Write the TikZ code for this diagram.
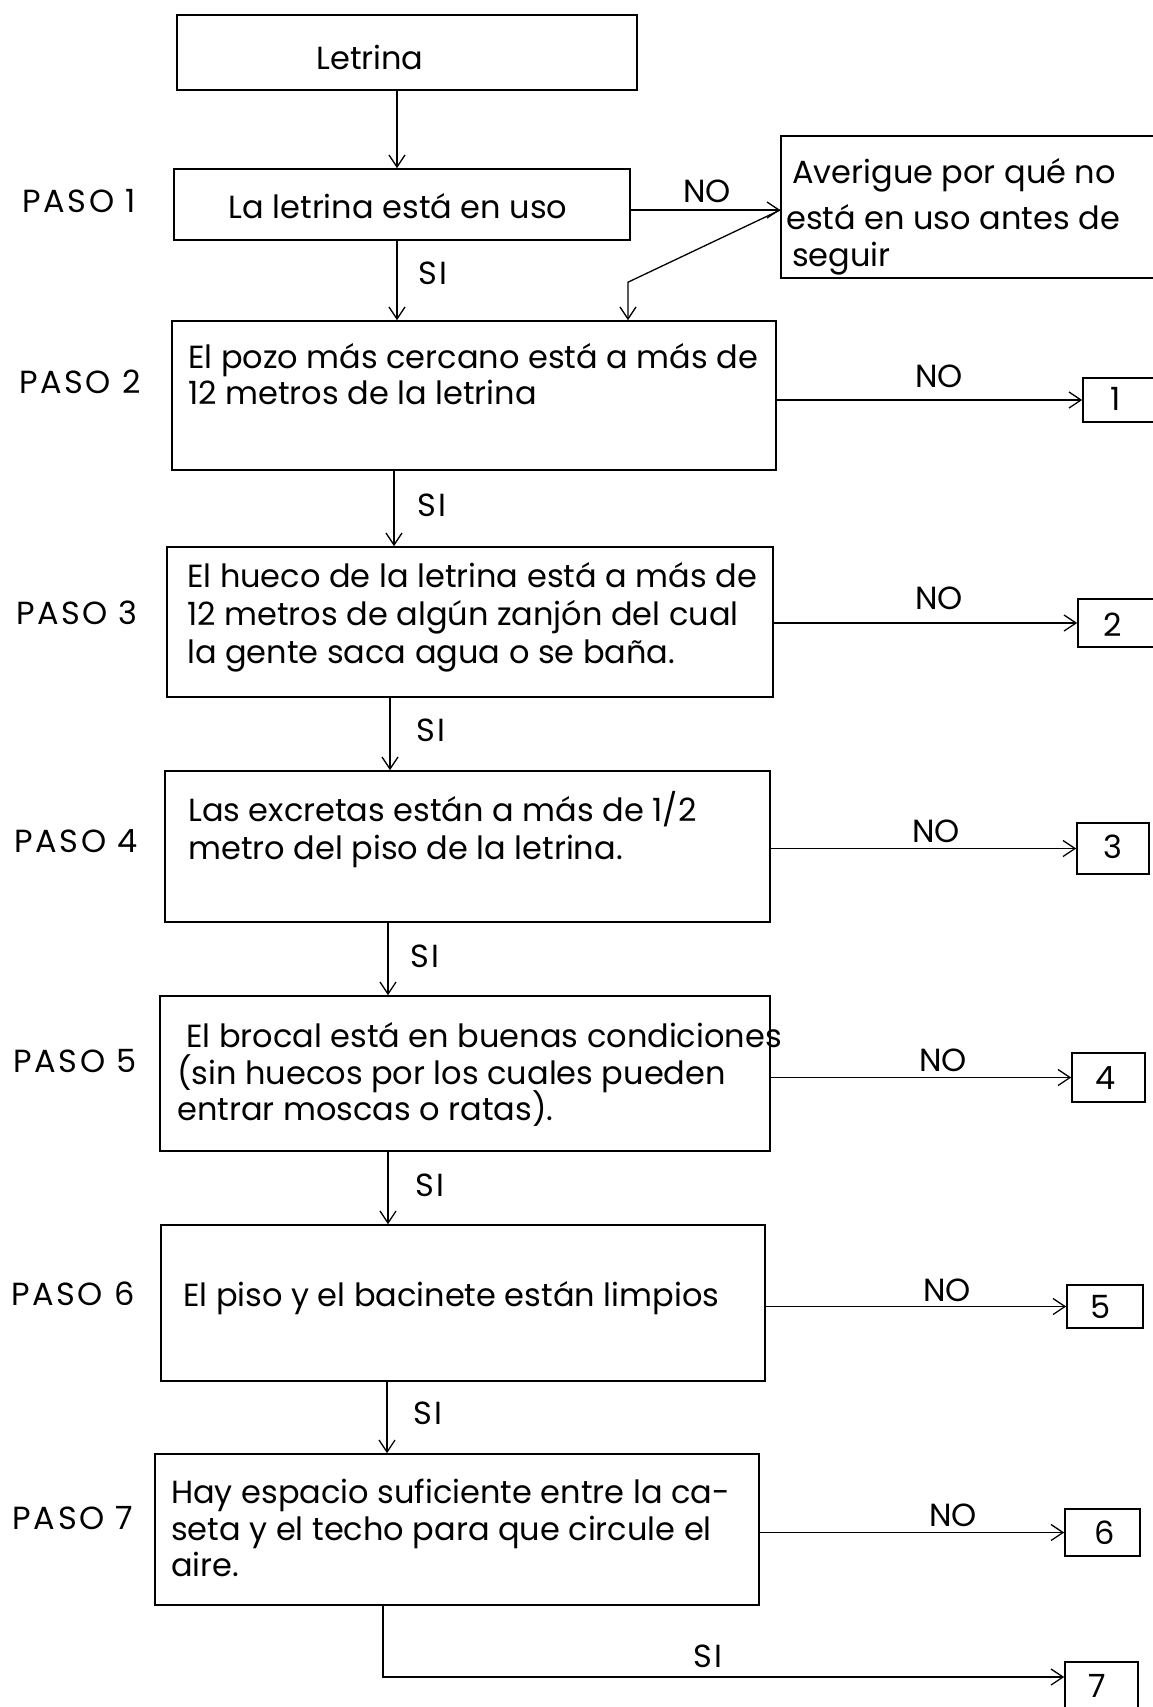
\documentclass[tikz,border=0pt]{standalone}
\usepackage{fontspec}
\setmainfont{Poppins}
\usetikzlibrary{arrows.meta}
\begin{document}
\begin{tikzpicture}[x=1pt,y=-1pt,
  box/.style={draw, line width=1.6pt, inner sep=0pt},
  txt/.style={anchor=west, inner sep=0pt, yshift=-7pt, font=\fontsize{32}{38}\selectfont, text height=0.72em, text depth=0.2em},
  lbl/.style={anchor=center, inner sep=0pt, yshift=-7pt, font=\fontsize{32}{38}\selectfont, text height=0.72em, text depth=0.2em},
  spc/.style={lbl, font=\fontsize{32}{38}\selectfont\addfontfeature{LetterSpace=8}},
  arr/.style={line width=1.3pt, -{Straight Barb[length=12pt,width=16pt,line width=1.3pt]}}]
\fill[white] (0,0) rectangle (1153,1707);
\useasboundingbox (0,0) rectangle (1153,1707);
% boxes
\node[box, minimum width=460pt, minimum height=75pt] (let0) at (407,52.5) {};
\node[box, minimum width=456pt, minimum height=71pt] (p1) at (402,204.5) {};
\node[box, minimum width=379pt, minimum height=142pt] (avg) at (970.5,207) {};
\node[box, minimum width=604pt, minimum height=149pt] (p2) at (474,395.5) {};
\node[box, minimum width=606pt, minimum height=150pt] (p3) at (470,622) {};
\node[box, minimum width=605pt, minimum height=151pt] (p4) at (467.5,846.5) {};
\node[box, minimum width=610pt, minimum height=155pt] (p5) at (465,1073.5) {};
\node[box, minimum width=604pt, minimum height=156pt] (p6) at (463,1303) {};
\node[box, minimum width=604pt, minimum height=151pt] (p7) at (457,1529.5) {};
\node[box, minimum width=77pt, minimum height=44pt] (r1) at (1121.5,400) {};
\node[box, minimum width=82pt, minimum height=48pt] (r2) at (1119,623) {};
\node[box, minimum width=72pt, minimum height=51pt] (r3) at (1113,848.5) {};
\node[box, minimum width=73pt, minimum height=49pt] (r4) at (1108.5,1077.5) {};
\node[box, minimum width=76pt, minimum height=43pt] (r5) at (1105,1306.5) {};
\node[box, minimum width=75pt, minimum height=47pt] (r6) at (1102.5,1532.5) {};
\node[box, minimum width=73pt, minimum height=50pt] (r7) at (1101.5,1687) {};
% texts
\node[lbl] (tlet) at (370,60) {Letrina};
\node[lbl] (t1) at (398,209) {La letrina está en uso};
\node[txt] (ta1) at (792,174) {Averigue por qué no};
\node[txt] (ta2) at (786,220) {está en uso antes de};
\node[txt] (ta3) at (792,257) {seguir};
\node[txt] (t2a) at (188,359) {El pozo más cercano está a más de};
\node[txt] (t2b) at (188,395) {12 metros de la letrina};
\node[txt] (t3a) at (187,578) {El hueco de la letrina está a más de};
\node[txt] (t3b) at (187,616) {12 metros de algún zanjón del cual};
\node[txt] (t3c) at (187,654) {la gente saca agua o se baña.};
\node[txt] (t4a) at (188,812) {Las excretas están a más de 1/2};
\node[txt] (t4b) at (188,850) {metro del piso de la letrina.};
\node[txt] (t5a) at (186,1038) {El brocal está en buenas condiciones};
\node[txt] (t5b) at (177,1075) {(sin huecos por los cuales pueden};
\node[txt] (t5c) at (177,1111) {entrar moscas o ratas).};
\node[txt] (t6) at (183,1297) {El piso y el bacinete están limpios};
\node[txt] (t7a) at (171,1494) {Hay espacio suficiente entre la ca-};
\node[txt] (t7b) at (171,1531) {seta y el techo para que circule el};
\node[txt] (t7c) at (171,1567) {aire.};
% PASO labels
\node[spc] (s1) at (79,203) {PASO 1};
\node[spc] (s2) at (80,384) {PASO 2};
\node[spc] (s3) at (77,615) {PASO 3};
\node[spc] (s4) at (76,843) {PASO 4};
\node[spc] (s5) at (75,1063) {PASO 5};
\node[spc] (s6) at (73,1296) {PASO 6};
\node[spc] (s7) at (73,1520) {PASO 7};
% numbers
\node[lbl] (n1) at (1116,401) {1};
\node[lbl] (n2) at (1113,627) {2};
\node[lbl] (n3) at (1113,849) {3};
\node[lbl] (n4) at (1106,1080) {4};
\node[lbl] (n5) at (1101,1309) {5};
\node[lbl] (n6) at (1105,1535) {6};
\node[lbl] (n7) at (1097,1688) {7};
% connector x positions
\coordinate (x0) at (397,0);
\coordinate (x1) at (397,0);
\coordinate (x2) at (394,0);
\coordinate (x3) at (390,0);
\coordinate (x4) at (388,0);
\coordinate (x5) at (388,0);
\coordinate (x6) at (387,0);
\coordinate (x7) at (383,0);
\coordinate (avgin) at ([yshift=-3pt]avg.west);
\coordinate (ret) at ([xshift=154pt]p2.north);
\coordinate (r7in) at ([yshift=10pt]r7.west);
% vertical connectors
\draw[arr] (x0 |- let0.south) -- (x0 |- p1.north);
\draw[arr] (x1 |- p1.south) -- (x1 |- p2.north);
\draw[arr] (x2 |- p2.south) -- (x2 |- p3.north);
\draw[arr] (x3 |- p3.south) -- (x3 |- p4.north);
\draw[arr] (x4 |- p4.south) -- (x4 |- p5.north);
\draw[arr] (x5 |- p5.south) -- (x5 |- p6.north);
\draw[arr] (x6 |- p6.south) -- (x6 |- p7.north);
\draw[arr] (x7 |- p7.south) -- (x7 |- r7in) -- (r7in);
% NO connectors
\draw[arr] (p1.east |- avgin) -- (avgin);
\draw[arr] (avgin) -- ([yshift=38pt]ret) -- (ret);
\draw[arr] (r1.west -| p2.east) -- (r1.west);
\draw[arr] (r2.west -| p3.east) -- (r2.west);
\draw[arr] (r3.west -| p4.east) -- (r3.west);
\draw[arr] (r4.west -| p5.east) -- (r4.west);
\draw[arr] (r5.west -| p6.east) -- (r5.west);
\draw[arr] (r6.west -| p7.east) -- (r6.west);
% labels
\node[lbl] (no1) at (707,193) {NO};
\node[lbl] (no2) at (939,378) {NO};
\node[lbl] (no3) at (939,600) {NO};
\node[lbl] (no4) at (936,833) {NO};
\node[lbl] (no5) at (943,1062) {NO};
\node[lbl] (no6) at (947,1292) {NO};
\node[lbl] (no7) at (953,1517) {NO};
\node[spc] (si1) at (433,275) {SI};
\node[spc] (si2) at (432,507) {SI};
\node[spc] (si3) at (431,732) {SI};
\node[spc] (si4) at (425,958) {SI};
\node[spc] (si5) at (430,1187) {SI};
\node[spc] (si6) at (428,1415) {SI};
\node[spc] (si7) at (708,1658) {SI};
\end{tikzpicture}
\end{document}
